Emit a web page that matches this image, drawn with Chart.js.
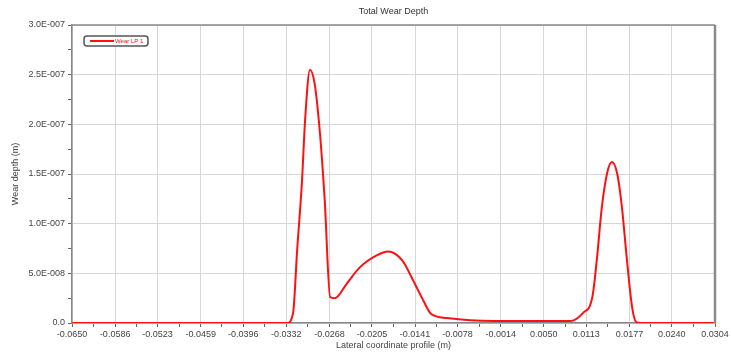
<!DOCTYPE html>
<html>
<head>
<meta charset="utf-8">
<title>Total Wear Depth</title>
<script src="https://cdn.jsdelivr.net/npm/chart.js@4.4.1/dist/chart.umd.min.js"></script>
<style>
  body { margin: 0; background: #fff; }
  #wrap { width: 731px; height: 354px; }
</style>
</head>
<body>
<div id="wrap"><canvas id="wearChart"></canvas></div>
<script>
// tick labels
const xTicks = [-0.0650, -0.0586, -0.0523, -0.0459, -0.0396, -0.0332, -0.0268, -0.0205,
                -0.0141, -0.0078, -0.0014, 0.0050, 0.0113, 0.0177, 0.0240, 0.0304];
const yTicks = [0, 5e-8, 1e-7, 1.5e-7, 2e-7, 2.5e-7, 3e-7];
const yTickLabels = ['0.0', '5.0E-008', '1.0E-007', '1.5E-007', '2.0E-007', '2.5E-007', '3.0E-007'];

// wear profile (lateral position in m, depth in m)
const profileX = [-0.0650, -0.0331, -0.0322, -0.0316, -0.0309, -0.0304, -0.0297, -0.0290,
                  -0.0282, -0.0275, -0.0267, -0.0260, -0.0242, -0.0223, -0.0198, -0.0181,
                  -0.0160, -0.0144, -0.0129, -0.0117, -0.0094, -0.0025, 0.0089, 0.0108,
                  0.0122, 0.0129, 0.0136, 0.0144, 0.0151, 0.0159, 0.0166, 0.0173,
                  0.0181, 0.0187, 0.0193, 0.0304];
const wearDepth = [0, 0, 1.0e-8, 7.3e-8, 1.40e-7, 2.06e-7, 2.55e-7, 2.41e-7,
                   1.90e-7, 1.23e-7, 2.6e-8, 2.5e-8, 4.0e-8, 5.6e-8, 6.8e-8, 7.2e-8,
                   6.3e-8, 4.3e-8, 2.3e-8, 9e-9, 5e-9, 2e-9, 2e-9, 1.0e-8,
                   2.6e-8, 6.6e-8, 1.16e-7, 1.51e-7, 1.62e-7, 1.50e-7, 1.16e-7, 6.6e-8,
                   1.6e-8, 1e-9, 0, 0];

const seriesName = 'Wear LP 1';
const lineColor = '#ff1010';

const points = profileX.map((x, i) => ({ x: x, y: wearDepth[i] }));

function withMinor(major) {
    const out = [];
    major.forEach((v, i) => {
        out.push({ value: v, minor: false, idx: i });
        if (i < major.length - 1) {
            out.push({ value: (v + major[i + 1]) / 2, minor: true });
        }
    });
    return out;
}

const gridColor = ctx => (ctx.tick && ctx.tick.minor) ? 'rgba(0,0,0,0)' : '#d6d6d6';

// frame, boxed legend inside the plot, and the title
const framePlugin = {
    id: 'frame',
    afterDraw(chart) {
        const c = chart.ctx;
        const a = chart.chartArea;
        c.save();
        c.strokeStyle = '#8a8a8a';
        c.lineWidth = 1.5;
        c.beginPath();
        c.moveTo(a.left, a.top);
        c.lineTo(a.right, a.top);
        c.stroke();
        c.lineWidth = 2.5;
        c.beginPath();
        c.moveTo(a.right, a.top);
        c.lineTo(a.right, a.bottom);
        c.stroke();

        // legend
        const lx = a.left + 12, ly = a.top + 11;
        c.fillStyle = '#fff';
        c.strokeStyle = '#555';
        c.lineWidth = 1.5;
        c.beginPath();
        c.roundRect(lx, ly, 64, 10, 3);
        c.fill();
        c.stroke();
        c.strokeStyle = chart.data.datasets[0].borderColor;
        c.lineWidth = 2;
        c.beginPath();
        c.moveTo(lx + 6, ly + 5);
        c.lineTo(lx + 30, ly + 5);
        c.stroke();
        c.fillStyle = chart.data.datasets[0].borderColor;
        c.font = '6px "Liberation Sans", Arial, sans-serif';
        c.textAlign = 'left';
        c.textBaseline = 'middle';
        c.fillText(chart.data.datasets[0].label, lx + 31, ly + 5.5);

        c.fillStyle = '#333';
        c.font = '9px "Liberation Sans", Arial, sans-serif';
        c.textAlign = 'center';
        c.fillText('Total Wear Depth', (a.left + a.right) / 2, 12);
        c.restore();
    }
};

const tickFont = { family: '"Liberation Sans", Arial, sans-serif', size: 9 };

new Chart(document.getElementById('wearChart').getContext('2d'), {
    type: 'line',
    data: {
        datasets: [{
            label: seriesName,
            data: points,
            borderColor: lineColor,
            backgroundColor: lineColor,
            borderWidth: 2,
            pointRadius: 0,
            cubicInterpolationMode: 'monotone',
            fill: false
        }]
    },
    options: {
        responsive: true,
        maintainAspectRatio: false,
        animation: false,
        layout: { padding: { top: 25, right: 16, left: 0, bottom: 0 } },
        plugins: {
            legend: { display: false },
            tooltip: { enabled: false }
        },
        scales: {
            x: {
                type: 'linear',
                min: xTicks[0],
                max: xTicks[xTicks.length - 1],
                afterBuildTicks: scale => { scale.ticks = withMinor(xTicks); },
                afterFit: scale => { scale.height = 31; },
                ticks: {
                    autoSkip: false,
                    maxRotation: 0,
                    padding: 2,
                    color: '#444',
                    font: tickFont,
                    callback: function (v, i, ticks) {
                        const t = ticks[i];
                        return t.minor ? '' : xTicks[t.idx].toFixed(4);
                    }
                },
                grid: { color: gridColor, tickColor: '#666', tickLength: 4 },
                border: { color: '#888', width: 1.5 },
                title: {
                    display: true,
                    text: 'Lateral coordinate profile (m)',
                    color: '#444',
                    font: tickFont,
                    padding: { top: 0, bottom: 3 }
                }
            },
            y: {
                min: yTicks[0],
                max: yTicks[yTicks.length - 1],
                afterBuildTicks: scale => { scale.ticks = withMinor(yTicks); },
                afterFit: scale => { scale.width = 72; },
                ticks: {
                    autoSkip: false,
                    padding: 3,
                    color: '#444',
                    font: tickFont,
                    callback: function (v, i, ticks) {
                        const t = ticks[i];
                        return t.minor ? '' : yTickLabels[t.idx];
                    }
                },
                grid: { color: gridColor, tickColor: '#666', tickLength: 4 },
                border: { color: '#888', width: 1.5 },
                title: {
                    display: true,
                    text: 'Wear depth (m)',
                    color: '#444',
                    font: tickFont,
                    padding: { top: 10, bottom: 0 }
                }
            }
        }
    },
    plugins: [framePlugin]
});
</script>
</body>
</html>
